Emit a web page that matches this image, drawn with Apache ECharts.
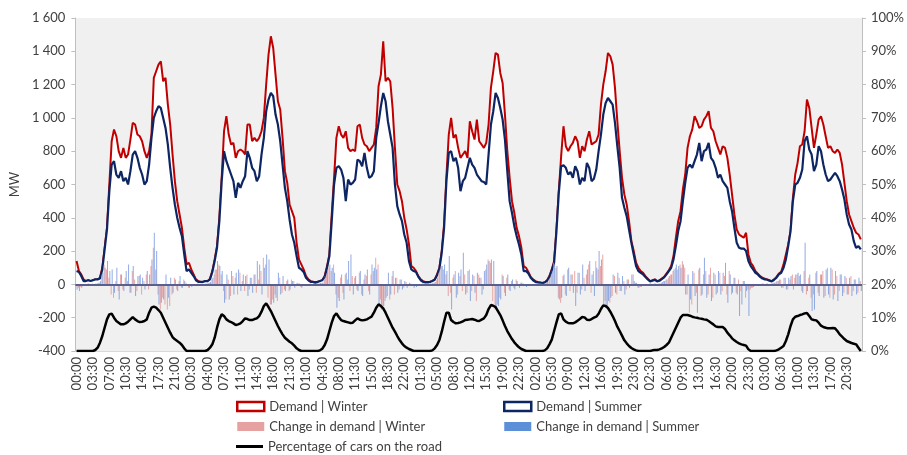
<!DOCTYPE html>
<html><head><meta charset="utf-8">
<script src="https://cdn.jsdelivr.net/npm/echarts@6/dist/echarts.min.js"></script>
<style>html,body{margin:0;padding:0;background:#fff}#c{width:907px;height:455px}</style>
</head><body><div id="c"></div>
<script>
// Half-hourly values, 7 days x 48 slots (one line per day)
const demandWinter = [
140,80,60,30,20,25,20,25,30,30,40,100, 220,340,600,860,930,890,800,760,820,760,780,870, 970,960,900,890,860,800,760,800,900,1240,1280,1320, 1340,1220,1240,1080,960,780,620,500,420,340,220,120,
130,90,60,30,20,15,15,20,20,35,80,150, 230,400,640,920,1010,900,840,850,760,800,810,800, 780,960,960,860,880,860,880,920,1000,1200,1380,1490, 1420,1260,1100,1050,880,680,610,480,440,400,250,150,
120,90,50,30,20,15,15,15,20,25,50,110, 180,420,640,880,950,900,880,920,820,800,810,800, 950,960,880,840,830,800,820,840,940,1190,1260,1460, 1220,1240,1220,1060,820,600,560,500,400,330,240,110,
100,80,50,30,20,15,15,15,20,30,60,100, 200,360,650,900,1000,880,900,820,760,780,800,760, 980,920,870,990,860,840,820,850,960,1180,1280,1390, 1380,1270,1210,1020,800,640,500,430,340,290,220,110,
100,75,45,30,20,15,12,8,12,25,50,90, 140,330,560,770,950,830,800,830,850,890,860,760, 830,800,870,920,840,850,860,900,1080,1200,1280,1390, 1370,1320,1180,980,800,640,540,480,380,260,200,130,
100,80,70,50,35,20,25,30,20,25,35,45, 65,85,110,170,280,380,440,570,660,820,890,930, 1010,980,940,950,990,1010,1040,940,920,860,820,780, 830,820,760,660,540,420,330,300,290,280,310,180,
130,110,80,65,50,40,35,30,25,20,30,45, 65,75,120,180,240,320,520,660,730,830,840,920, 1110,1060,940,820,900,990,1010,960,890,820,830,800, 790,810,790,720,610,500,420,380,340,310,300,270
];
const demandSummer = [
80,75,50,20,20,25,20,25,30,30,35,90, 210,330,560,720,740,660,640,680,620,640,600,680, 780,800,760,700,660,600,620,720,880,1000,1040,1070, 1060,1000,940,840,700,580,480,400,340,290,180,80,
90,70,50,25,15,15,15,20,20,30,75,140, 220,380,620,800,740,700,660,620,520,610,580,620, 650,800,760,700,680,620,650,780,880,1040,1110,1150, 1130,1020,960,860,720,580,500,390,300,250,170,100,
90,75,40,25,15,15,10,15,20,25,45,100, 170,380,600,700,710,690,640,500,630,600,610,630, 750,740,710,790,700,640,650,680,880,970,1070,1150, 1100,980,900,820,600,470,420,380,300,250,140,90,
80,75,45,25,15,12,12,15,20,28,55,95, 190,340,620,790,800,740,760,700,560,620,640,700, 760,720,700,660,640,620,615,600,780,960,1040,1150, 1120,1060,990,870,680,500,430,350,290,240,180,80,
80,65,40,25,15,12,10,8,12,22,45,85, 130,320,550,710,715,700,660,675,640,710,680,600, 640,620,730,700,620,635,690,800,900,1020,1090,1120, 1100,1080,970,830,700,520,460,410,330,250,180,110,
80,70,60,45,30,18,22,28,18,22,32,42, 60,80,100,150,230,320,380,500,610,700,720,700, 740,780,850,740,800,810,850,760,740,700,640,660, 620,600,580,500,440,340,250,220,215,215,200,140,
110,90,70,60,45,35,30,28,22,18,28,40, 60,70,100,150,230,320,500,600,610,640,690,860, 890,810,780,680,720,830,800,720,660,620,630,650, 670,650,620,570,510,420,360,330,260,220,230,210
];
const changeWinter = [
-10,-20,-15,-5,0,5,0,5,0,5,10,60, 120,90,40,-60,-80,20,-40,60,-30,40,20,-50, 80,30,-40,50,-60,20,60,-30,110,220,90,-60, -150,-80,-120,-150,-130,-60,40,-30,20,-20,30,10,
-20,-10,-5,0,5,0,5,0,5,10,30,60, 90,120,60,-40,-90,30,-70,50,40,-60,70,20, -40,60,-30,40,60,-50,30,80,160,120,-80,-120, -90,-60,-100,40,-50,-30,20,-40,30,20,-10,5,
-15,-10,-5,0,5,0,0,5,5,10,30,60, 100,80,120,-60,-80,40,-50,60,30,-40,50,40, -30,70,-60,30,50,-40,60,80,160,120,-90,-150, -100,-70,-90,50,-60,40,-30,30,-20,15,-10,5,
-10,-10,-5,0,5,0,5,0,5,10,25,70, 110,90,60,-70,-50,40,80,-60,50,-40,60,-50, 90,-40,50,-100,60,40,-30,90,150,130,-100,-150, -120,-80,60,-50,40,-30,20,-20,30,-10,10,5,
-10,-5,-5,0,0,5,0,5,5,10,30,60, 130,100,-80,-110,50,-60,90,-40,60,80,-50,70, -30,40,60,120,-50,80,140,90,110,180,-100,-140, -110,-70,50,-60,40,-40,20,-30,30,-10,60,10,
-20,-15,-10,-5,0,5,0,5,0,5,10,20, 30,40,60,80,100,90,120,140,100,-60,-170,-120, 70,-50,90,-70,60,80,-60,100,-80,60,-50,70, -40,50,-60,80,-60,40,-50,30,-40,20,-80,-30,
-30,-20,-10,-5,0,5,0,5,0,5,10,15, 20,30,-20,40,-30,30,60,40,60,50,-40,80, -60,40,-80,-60,70,-50,60,80,-70,100,-80,90, -60,50,-40,60,-50,40,-60,50,-40,30,-50,20
];
const changeSummer = [
-30,-40,-20,-10,0,5,-5,0,5,10,20,70, 100,140,80,90,-50,100,-90,60,-40,80,120,-50, 110,-70,50,60,40,-30,80,60,150,310,200,-120, -110,-90,60,-80,40,-50,30,-40,50,-20,20,-10,
-20,-15,-10,-5,0,5,0,5,10,15,40,90, 140,110,80,-110,60,-90,80,-60,70,90,-40,60, 50,-70,40,-50,60,140,120,-60,100,180,150,-120, -110,-80,70,-60,50,-40,30,-30,20,-20,10,5,
-20,-10,-10,-5,0,5,0,5,10,10,50,90, 120,100,70,-140,-100,60,-90,70,140,180,-60,50, -40,80,-70,60,90,-60,120,100,90,-120,-150,-130, -80,70,-60,80,40,-50,30,-30,20,-20,10,-5,
-20,-15,-10,-5,0,0,5,5,10,15,40,90, 110,120,80,170,-150,60,-80,70,90,190,-60,80, -100,60,-50,70,40,-60,80,120,140,150,140,-140, -130,-90,50,-70,60,-40,30,-30,20,-20,10,-5,
-15,-10,-5,0,5,0,5,0,5,15,40,80, 120,110,-90,-80,60,-70,100,60,-50,-130,70,-60, 120,-40,90,140,60,-70,100,200,150,-120,-140,-100, -80,60,-50,70,-40,50,-60,30,-20,60,20,10,
-20,-15,-10,-5,0,5,0,5,0,5,15,20, 30,50,60,90,120,110,100,120,-60,60,-90,80, -70,-170,100,-60,160,-80,60,-100,70,-60,80,-60, 70,130,-110,60,-50,40,-60,-190,-120,20,-40,-190,
-20,-15,-10,-5,0,5,0,5,0,5,10,20, 30,-20,40,-30,40,50,-30,60,70,60,-50,250, -40,60,-160,-150,80,-70,60,-80,90,-60,100,-90, 80,-100,60,-70,50,-60,40,-70,30,-60,40,-40
];
const carsOnRoad = [
0,0,0,0,0,0,0,0,0.3,1,2.5,4.5, 7,9.5,11,11.2,10,9,8.5,8,8,8.3,8.8,9.5, 10.2,9.5,9,8.7,8.8,9,9.5,11.5,13,13.3,13,12.3, 11.5,10,8.5,7,5.5,4.2,3.5,3,2.5,1.8,0.8,0,
0,0,0,0,0,0,0,0,0.3,1,2,4, 7,9.5,11,10.5,9.5,9,8.7,8.3,7.8,8,8.3,9, 9.8,9.6,9.3,9.3,9.6,9.8,10.5,11.8,13.5,14.3,13.2,12, 10.5,9,7.5,6.2,5,4,3.4,2.8,2.3,1.6,0.8,0.3,
0,0,0,0,0,0,0,0,0.2,0.7,1.8,3.5, 6,8.5,10.5,11.3,10.2,9.3,9,8.8,8.6,8.4,8.5,9.2, 9.8,9.4,9.2,9.3,9.5,9.9,10.3,11.5,13,14,13.5,12.8, 11.5,10,8.5,7,5.8,4.5,3.3,2.3,1.5,1,0.6,0.3,
0,0,0,0,0,0,0,0,0.2,0.8,1.8,3.3, 5.8,8.8,11.5,11.5,9.3,8.7,8.3,8.4,8.6,8.9,9.3,9.4, 9.5,9.6,9.4,9.1,9,9.4,9.8,10.8,12.6,13.8,13.6,13.2, 12,10.8,9.2,7.5,6,4.8,3.6,2.6,1.8,1.1,0.6,0.3,
0,0,0,0,0,0,0,0,0.2,0.8,2,3.4, 6,8.6,11,11.3,9.5,8.8,8.4,8.3,8.3,8.6,9.1,9.6, 10.2,10.1,9.4,9.3,9.6,10,10.3,11.2,12.6,13.7,13.5,12.9, 11.8,10.5,9,7.3,6,4.6,3.2,2.3,1.5,0.9,0.5,0.2,
0,0,0,0,0,0,0.2,0.3,0.3,0.5,0.8,1.2, 1.8,2.5,4,5.5,7,8.5,10,10.8,10.8,10.8,10.6,10.3, 10.1,10,9.8,9.7,9.5,9.4,9,8.5,8,7.4,7.2,7.2, 7.2,6.6,5.5,4.7,3.8,3.2,2.7,2.3,2,1.8,1.6,0.5,
0,0,0,0,0,0,0,0,0,0,0,0.2, 0.5,1,1.5,3,5,7.5,9.5,10.3,10.5,10.8,11,11.3, 11.4,10.5,9.5,9.3,9.2,8.5,7.6,7.2,7,6.8,6.8,6.9, 6.8,6,5,4.3,3.6,3,2.7,2.4,2.2,2,1,0
];
// Category labels: every half hour over 7 days
const timeLabels = [];
for (let d = 0; d < 7; d++) {
  for (let s = 0; s < 48; s++) {
    const hh = String(Math.floor(s / 2)).padStart(2, '0');
    const mm = s % 2 ? '30' : '00';
    timeLabels.push(hh + ':' + mm);
  }
}

const FONT = 'Lato';
const TXT = '#404040';
const chart = echarts.init(document.getElementById('c'), null, {renderer: 'canvas'});
const legendText = {fontFamily: FONT, fontSize: 13, color: TXT};
chart.setOption({
  animation: false,
  textStyle: {fontFamily: FONT},
  grid: {left: 71, right: 39, top: 18, bottom: 104, show: true, backgroundColor: '#f0f0f0', borderWidth: 0},
  legend: [
    {orient: 'vertical', left: 236, top: 400, padding: 0, itemWidth: 27, itemHeight: 9, itemGap: 7, textStyle: legendText,
     selectedMode: false,
     data: [
       {name: 'Demand | Winter', icon: 'rect', itemStyle: {color: '#ffffff', borderColor: '#c00000', borderWidth: 2.5, opacity: 1}},
       {name: 'Change in demand | Winter', icon: 'rect', itemStyle: {color: '#e6a1a1', borderWidth: 0, opacity: 1}}
     ]},
    {orient: 'vertical', left: 503, top: 400, padding: 0, itemWidth: 27, itemHeight: 9, itemGap: 7, textStyle: legendText,
     selectedMode: false,
     data: [
       {name: 'Demand | Summer', icon: 'rect', itemStyle: {color: '#ffffff', borderColor: '#0d2562', borderWidth: 2.5, opacity: 1}},
       {name: 'Change in demand | Summer', icon: 'rect', itemStyle: {color: '#5b8fd8', borderWidth: 0, opacity: 1}}
     ]},
    {orient: 'vertical', left: 236, top: 440, padding: 0, itemWidth: 27, itemHeight: 3, textStyle: legendText,
     selectedMode: false,
     data: [{name: 'Percentage of cars on the road', icon: 'rect', itemStyle: {color: '#000000', borderWidth: 0, opacity: 1}}]}
  ],
  xAxis: {
    type: 'category', data: timeLabels, boundaryGap: true,
    axisLine: {onZero: false, lineStyle: {color: '#d9d9d9'}},
    axisTick: {show: false},
    axisLabel: {interval: 6, rotate: 90, margin: 6, fontFamily: FONT, fontSize: 13, color: TXT},
    splitLine: {show: false}
  },
  yAxis: [
    {type: 'value', min: -400, max: 1600, interval: 200, name: 'MW', nameLocation: 'middle', nameGap: 50,
     nameTextStyle: {fontFamily: FONT, fontSize: 13, color: TXT},
     axisLine: {show: true, lineStyle: {color: '#bfbfbf'}},
     axisTick: {show: true, length: 4, lineStyle: {color: '#bfbfbf'}},
     axisLabel: {margin: 10, fontFamily: FONT, fontSize: 13, color: TXT,
       formatter: v => String(v).replace(/\B(?=(\d{3})+(?!\d))/g, ' ')},
     splitLine: {show: false}},
    {type: 'value', min: 0, max: 100, interval: 10, position: 'right',
     axisLine: {show: true, lineStyle: {color: '#bfbfbf'}},
     axisTick: {show: true, length: 4, lineStyle: {color: '#bfbfbf'}},
     axisLabel: {margin: 9, fontFamily: FONT, fontSize: 13, color: TXT, formatter: '{value}%'},
     splitLine: {show: false}}
  ],
  series: [
    {name: 'Demand | Winter', type: 'line', data: demandWinter, yAxisIndex: 0, symbol: 'none', z: 2,
     lineStyle: {color: '#c00000', width: 2}, itemStyle: {color: '#c00000'},
     areaStyle: {color: '#ffffff', opacity: 1}},
    {name: 'Demand | Summer', type: 'line', data: demandSummer, yAxisIndex: 0, symbol: 'none', z: 3,
     lineStyle: {color: '#0d2562', width: 2.2}, itemStyle: {color: '#0d2562'},
     areaStyle: {color: '#ffffff', opacity: 1}},
    {name: 'Change in demand | Winter', type: 'bar', data: changeWinter, yAxisIndex: 0, z: 4,
     barWidth: 1, barGap: '0%', itemStyle: {color: 'rgba(226,140,140,0.75)'}},
    {name: 'Change in demand | Summer', type: 'bar', data: changeSummer, yAxisIndex: 0, z: 4,
     barWidth: 1, barGap: '0%', itemStyle: {color: 'rgba(100,135,215,0.7)'},
     markLine: {silent: true, symbol: ['none', 'none'], label: {show: false},
       lineStyle: {color: '#5a5f8e', width: 2, type: 'solid'}, data: [{yAxis: 0}]}},
    {name: 'Percentage of cars on the road', type: 'line', data: carsOnRoad, yAxisIndex: 1, symbol: 'none', z: 5,
     lineStyle: {color: '#000000', width: 2.5}, itemStyle: {color: '#000000'}}
  ]
});
</script>
</body></html>
